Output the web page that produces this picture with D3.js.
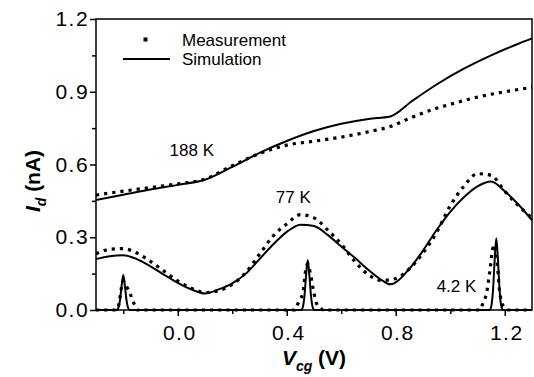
<!DOCTYPE html>
<html>
<head>
<meta charset="utf-8">
<script src="https://cdnjs.cloudflare.com/ajax/libs/d3/7.8.5/d3.min.js"></script>
<style>
  body { margin: 0; background: #fff; }
  svg { display: block; }
  text { font-family: Arial, "Liberation Sans", sans-serif; fill: #000; }
</style>
</head>
<body>
<svg id="chart"></svg>
<script>
// 188 K
const vcg188Sim = [-0.3, -0.2, -0.1, 0.0, 0.1, 0.2, 0.3, 0.4, 0.5, 0.6, 0.7, 0.78, 0.86, 0.95, 1.05, 1.15, 1.25, 1.3];
const id188Sim  = [0.454, 0.475, 0.497, 0.516, 0.537, 0.59, 0.648, 0.697, 0.738, 0.768, 0.788, 0.798, 0.862, 0.93, 0.995, 1.05, 1.098, 1.12];
const vcg188Meas = [-0.3, -0.2, -0.1, 0.0, 0.1, 0.2, 0.3, 0.4, 0.5, 0.6, 0.7, 0.78, 0.86, 0.95, 1.0, 1.1, 1.2, 1.3];
const id188Meas  = [0.474, 0.49, 0.505, 0.52, 0.54, 0.595, 0.645, 0.68, 0.696, 0.713, 0.735, 0.757, 0.795, 0.832, 0.848, 0.878, 0.9, 0.918];

// 77 K
const vcg77 = [-0.3, -0.25, -0.2, -0.15, -0.1, -0.05, 0.0, 0.05, 0.1, 0.15, 0.2, 0.25, 0.3, 0.35, 0.4, 0.45, 0.5,
               0.55, 0.6, 0.65, 0.7, 0.75, 0.78, 0.85, 0.9, 0.95, 1.0, 1.05, 1.1, 1.15, 1.2, 1.25, 1.3];
const id77Sim = [0.21, 0.222, 0.226, 0.21, 0.18, 0.145, 0.112, 0.085, 0.068, 0.085, 0.11, 0.15, 0.21, 0.27, 0.322, 0.352, 0.346,
                 0.31, 0.262, 0.215, 0.165, 0.122, 0.106, 0.17, 0.245, 0.33, 0.405, 0.465, 0.51, 0.53, 0.49, 0.435, 0.37];
const vcg77Meas = [-0.3, -0.25, -0.2, -0.15, -0.1, -0.05, 0.0, 0.05, 0.1, 0.15, 0.2, 0.25, 0.3, 0.35, 0.4, 0.45, 0.5,
                   0.55, 0.6, 0.65, 0.7, 0.75, 0.8, 0.85, 0.9, 0.95, 1.0, 1.05, 1.1, 1.15, 1.2, 1.25, 1.3];
const id77Meas = [0.232, 0.25, 0.253, 0.235, 0.2, 0.16, 0.12, 0.09, 0.072, 0.08, 0.105, 0.155, 0.23, 0.305, 0.355, 0.393, 0.38,
                  0.33, 0.272, 0.2, 0.145, 0.122, 0.13, 0.17, 0.235, 0.32, 0.43, 0.51, 0.562, 0.555, 0.49, 0.43, 0.38];

// 4.2 K
const vcg4Sim = [-0.3, -0.224, -0.218, -0.212, -0.206, -0.2, -0.194, -0.188, -0.182, -0.176,
                 0.453, 0.459, 0.465, 0.471, 0.477, 0.483, 0.489, 0.495, 0.501,
                 1.145, 1.151, 1.157, 1.163, 1.169, 1.175, 1.181, 1.187, 1.193, 1.3];
const id4Sim  = [0, 0, 0.009, 0.04, 0.1, 0.144, 0.1, 0.04, 0.009, 0,
                 0, 0.012, 0.058, 0.144, 0.206, 0.144, 0.058, 0.012, 0,
                 0, 0.018, 0.083, 0.207, 0.296, 0.207, 0.083, 0.018, 0, 0];
const vcg4Meas = [-0.3, -0.225, -0.215, -0.207, -0.2, -0.193, -0.182, -0.168, -0.158, -0.148,
                  0.43, 0.436, 0.444, 0.46, 0.47, 0.476, 0.485, 0.5, 0.509, 0.521, 0.535,
                  1.108, 1.12, 1.133, 1.145, 1.155, 1.163, 1.172, 1.18, 1.188, 1.2, 1.215, 1.3];
const id4Meas  = [0, 0, 0.03, 0.09, 0.12, 0.105, 0.085, 0.048, 0.02, 0,
                  0, 0.014, 0.034, 0.075, 0.168, 0.19, 0.16, 0.069, 0.028, 0.011, 0,
                  0, 0.028, 0.069, 0.158, 0.247, 0.27, 0.2, 0.089, 0.034, 0.01, 0, 0];

const xMajor = [0.0, 0.4, 0.8, 1.2];
const xMinor = [-0.2, 0.2, 0.6, 1.0];
const yMajor = [0.0, 0.3, 0.6, 0.9, 1.2];
const yMinor = [0.15, 0.45, 0.75, 1.05];

const tempLabels = [
  { text: '188 K', x: -0.03, y: 0.635 },
  { text: '77 K',  x: 0.36,  y: 0.44 },
  { text: '4.2 K', x: 0.95,  y: 0.074 }
];

const width = 534, height = 377;
const svg = d3.select('#chart').attr('width', width).attr('height', height);

const x = d3.scaleLinear().domain([-0.3, 1.3]).range([96, 532]);
const y = d3.scaleLinear().domain([0, 1.2]).range([310, 19]);

// axes
const xAxis = svg.append('g').attr('transform', 'translate(0,310)')
  .call(d3.axisBottom(x).tickValues(xMajor).tickFormat(d3.format('.1f')).tickSize(6).tickSizeOuter(0));
svg.append('g').attr('transform', 'translate(0,310)')
  .call(d3.axisBottom(x).tickValues(xMinor).tickFormat('').tickSize(4).tickSizeOuter(0))
  .select('.domain').remove();
const yAxis = svg.append('g').attr('transform', 'translate(96,0)')
  .call(d3.axisLeft(y).tickValues(yMajor).tickFormat(d3.format('.1f')).tickSize(6).tickSizeOuter(0));
svg.append('g').attr('transform', 'translate(96,0)')
  .call(d3.axisLeft(y).tickValues(yMinor).tickFormat('').tickSize(4).tickSizeOuter(0))
  .select('.domain').remove();

svg.selectAll('.tick line').attr('stroke', '#000').attr('stroke-width', 1.5);
xAxis.selectAll('.tick text').attr('font-size', 21).attr('letter-spacing', 1.5).attr('dx', '0.07em').attr('dy', '1em');
yAxis.selectAll('.tick text').attr('font-size', 21).attr('letter-spacing', 1.5).attr('dx', '0.1em');
svg.selectAll('.domain').remove();

// frame
svg.append('rect')
  .attr('x', x(-0.3)).attr('y', y(1.2))
  .attr('width', x(1.3) - x(-0.3)).attr('height', y(0) - y(1.2))
  .attr('fill', 'none').attr('stroke', '#000').attr('stroke-width', 1.5);

// curves
const line = d3.line()
  .x(d => x(d[0]))
  .y(d => y(d[1]))
  .curve(d3.curveMonotoneX);

const sims = [[vcg188Sim, id188Sim], [vcg77, id77Sim], [vcg4Sim, id4Sim]];
const meas = [[vcg188Meas, id188Meas], [vcg77Meas, id77Meas], [vcg4Meas, id4Meas]];

svg.append('g').selectAll('path')
  .data(meas)
  .enter().append('path')
    .attr('d', s => line(d3.zip(s[0], s[1])))
    .attr('fill', 'none')
    .attr('stroke', '#000')
    .attr('stroke-width', 3.2)
    .attr('stroke-dasharray', '3.2,5');

svg.append('g').selectAll('path')
  .data(sims)
  .enter().append('path')
    .attr('d', s => line(d3.zip(s[0], s[1])))
    .attr('fill', 'none')
    .attr('stroke', '#000')
    .attr('stroke-width', 2);

// temperature labels
svg.append('g').selectAll('text')
  .data(tempLabels)
  .enter().append('text')
    .attr('x', d => x(d.x))
    .attr('y', d => y(d.y))
    .attr('font-size', 17)
    .text(d => d.text);

// legend
svg.append('rect').attr('x', 143.5).attr('y', 37.5).attr('width', 4).attr('height', 4).attr('fill', '#000');
svg.append('line').attr('x1', 123).attr('x2', 170).attr('y1', 59).attr('y2', 59)
  .attr('stroke', '#000').attr('stroke-width', 2);
svg.append('text').attr('x', 182).attr('y', 46).attr('font-size', 17).text('Measurement');
svg.append('text').attr('x', 182).attr('y', 65).attr('font-size', 17).text('Simulation');

// axis titles
const xt = svg.append('text')
  .attr('x', 314).attr('y', 365)
  .attr('text-anchor', 'middle')
  .attr('font-size', 21).attr('font-weight', 'bold');
xt.append('tspan').attr('font-style', 'italic').text('V');
xt.append('tspan').attr('font-style', 'italic').attr('font-size', 14).attr('dy', 6).text('cg');
xt.append('tspan').attr('dy', -6).text(' (V)');

const yt = svg.append('text')
  .attr('transform', 'translate(40,181) rotate(-90)')
  .attr('text-anchor', 'middle')
  .attr('font-size', 21).attr('font-weight', 'bold');
yt.append('tspan').attr('font-style', 'italic').text('I');
yt.append('tspan').attr('font-style', 'italic').attr('font-size', 14).attr('dy', 6).text('d');
yt.append('tspan').attr('dy', -6).text(' (nA)');
</script>
</body>
</html>
